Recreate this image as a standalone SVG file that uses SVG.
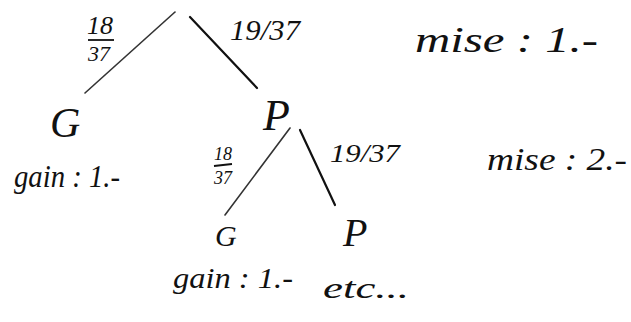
<svg xmlns="http://www.w3.org/2000/svg" width="631" height="322" viewBox="0 0 631 322">
<style>
text{font-family:"Liberation Serif",serif;font-style:italic;fill:#111}
.edge{stroke:#111;stroke-width:2.2;stroke-linecap:round;fill:none}
.faint{stroke-width:1.6;stroke:#333}
.bar{stroke:#111;stroke-width:1.8}
</style>
<rect width="631" height="322" fill="#fff"/>
<g id="connectors">
<line class="edge faint" x1="175" y1="12" x2="85" y2="93"/>
<line class="edge" x1="190" y1="17" x2="257" y2="88"/>
<line class="edge faint" x1="290" y1="128" x2="225" y2="215"/>
<line class="edge" x1="300" y1="130" x2="335" y2="205"/>
</g>
<g id="edge-labels">
<text x="100" y="34" font-size="26" text-anchor="middle">18</text>
<line class="bar" x1="88" y1="40" x2="114" y2="40"/>
<text x="99" y="61" font-size="22" text-anchor="middle">37</text>
<text x="230" y="40" font-size="30" textLength="70" lengthAdjust="spacingAndGlyphs">19/37</text>
<text x="223" y="160" font-size="18" text-anchor="middle">18</text>
<line class="bar" x1="214" y1="166" x2="232" y2="164"/>
<text x="223" y="184" font-size="18" text-anchor="middle">37</text>
<text x="330" y="162" font-size="26" textLength="70" lengthAdjust="spacingAndGlyphs">19/37</text>
</g>
<g id="node-G1">
<text x="50" y="137" font-size="42">G</text>
<text x="14" y="187" font-size="32" textLength="106" lengthAdjust="spacingAndGlyphs">gain : 1.-</text>
</g>
<g id="node-P1">
<text x="263" y="130" font-size="44">P</text>
</g>
<g id="node-G2">
<text x="215" y="246" font-size="30">G</text>
<text x="173" y="288" font-size="30" textLength="120" lengthAdjust="spacingAndGlyphs">gain : 1.-</text>
</g>
<g id="node-P2">
<text x="343" y="246" font-size="40">P</text>
<text x="323" y="298" font-size="30" textLength="86" lengthAdjust="spacingAndGlyphs">etc...</text>
</g>
<g id="notes">
<text x="415" y="52" font-size="36" textLength="183" lengthAdjust="spacingAndGlyphs">mise : 1.-</text>
<text x="487" y="170" font-size="32" textLength="140" lengthAdjust="spacingAndGlyphs">mise : 2.-</text>
</g>
</svg>
